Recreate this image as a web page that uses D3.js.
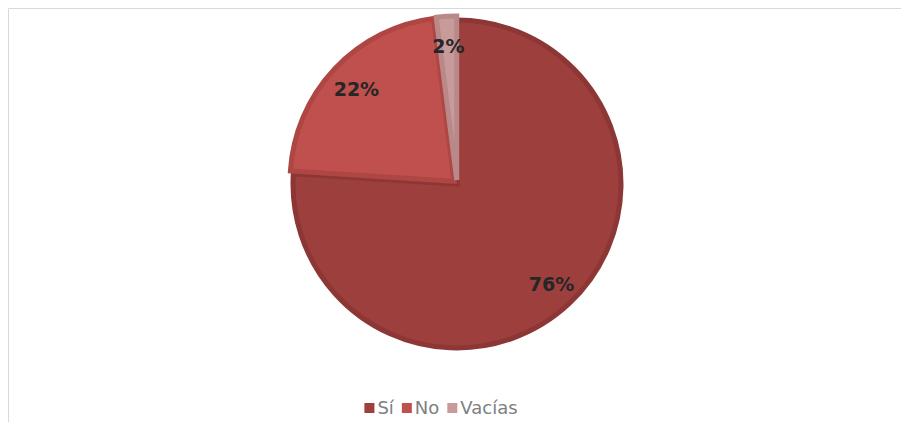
<!DOCTYPE html>
<html>
<head>
<meta charset="utf-8">
<script src="https://cdn.jsdelivr.net/npm/d3@7"></script>
<style>
  body { margin: 0; background: #fff; }
  svg { display: block; }
</style>
</head>
<body>
<div id="chart"></div>
<script>
// answers
const categories = ["Sí", "No", "Vacías"];
const values = [76, 22, 2];
const labels = ["76%", "22%", "2%"];
const fills = ["#9c3f3d", "#c0504d", "#c89b9a"];
const borders = ["#8c3735", "#ae4644", "#b88988"];
const explode = [0, 4, 4];

const width = 901, height = 422;
const cx = 457, cy = 184, R = 166;

const svg = d3.select("#chart").append("svg")
    .attr("width", width)
    .attr("height", height);

// chart area border (top + left visible)
svg.append("path")
    .attr("d", `M8.5,${height} L8.5,8.5 L${width},8.5`)
    .attr("fill", "none")
    .attr("stroke", "#d9d9d9")
    .attr("stroke-width", 1);

const pie = d3.pie().sort(null).value(d => d);
const arcs = pie(values);

const arc = d3.arc().innerRadius(0).outerRadius(R - 2);
const labelArc = d3.arc().innerRadius(138).outerRadius(138);

const g = svg.append("g").attr("transform", `translate(${cx},${cy})`);

const slices = g.selectAll("g.slice")
    .data(arcs)
    .join("g")
    .attr("class", "slice")
    .attr("transform", (d, i) => {
        const a = (d.startAngle + d.endAngle) / 2;
        return `translate(${Math.sin(a) * explode[i]},${-Math.cos(a) * explode[i]})`;
    });

slices.append("path")
    .attr("d", arc)
    .attr("fill", (d, i) => fills[i])
    .attr("stroke", (d, i) => borders[i])
    .attr("stroke-width", 5)
    .attr("stroke-linejoin", "miter");

g.selectAll("text.lbl")
    .data(arcs)
    .join("text")
    .attr("class", "lbl")
    .attr("transform", d => `translate(${labelArc.centroid(d)})`)
    .attr("text-anchor", "middle")
    .attr("dy", "0.35em")
    .attr("font-family", "'DejaVu Sans', sans-serif")
    .attr("font-weight", "bold")
    .attr("font-size", 19)
    .attr("fill", "#262626")
    .text((d, i) => labels[i]);

// legend
const legend = svg.append("g");
let x = 0;
categories.forEach((c, i) => {
    const it = legend.append("g");
    it.append("rect").attr("x", 0).attr("y", -5).attr("width", 10).attr("height", 10)
        .attr("fill", fills[i]);
    const t = it.append("text")
        .attr("x", 13).attr("dy", "0.35em")
        .attr("font-family", "'DejaVu Sans', sans-serif")
        .attr("font-size", 18)
        .attr("fill", "#808080")
        .text(c);
    const w = 13 + t.node().getComputedTextLength();
    it.attr("transform", `translate(${x},0)`);
    x += w + 8;
});
const totalW = x - 8;
legend.attr("transform", `translate(${441 - totalW / 2},408)`);
</script>
</body>
</html>
